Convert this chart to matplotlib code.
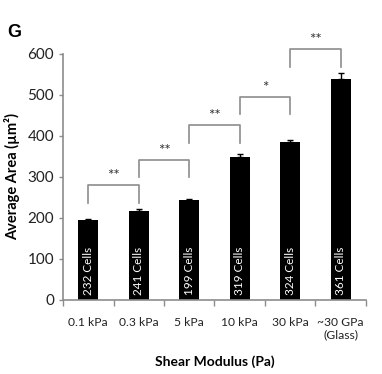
import matplotlib.pyplot as plt

# data
categories = ['0.1 kPa', '0.3 kPa', '5 kPa', '10 kPa', '30 kPa', '~30 GPa\n(Glass)']
areas = [195, 218, 243, 349, 384, 538]
errors = [3, 4, 4, 8, 7, 15]
cell_counts = ['232 Cells', '241 Cells', '199 Cells', '319 Cells', '324 Cells', '361 Cells']

# significance brackets: (left bar, right bar, top, leg bottom, label)
pairs = [(0, 1), (1, 2), (2, 3), (3, 4), (4, 5)]
bracket_tops = [280, 341, 427, 495, 612]
bracket_legs = [237, 300, 383, 454, 568]
bracket_marks = ['**', '**', '**', '*', '**']

plt.rcParams['font.family'] = ['Lato', 'DejaVu Sans']

fig = plt.figure(figsize=(3.82, 3.74), dpi=100)
ax = fig.add_axes([0.165, 0.198, 0.793, 0.658])

x = list(range(len(categories)))
ax.bar(x, areas, width=0.4, color='black', zorder=2)
ax.errorbar(x, areas, yerr=[[0] * len(errors), errors], fmt='none',
            ecolor='black', elinewidth=1, capsize=2.5, capthick=1, zorder=3)

for i, label in enumerate(cell_counts):
    ax.text(i, 12, label, rotation=90, ha='center', va='bottom',
            color='white', fontsize=8.5)

gray = '#8c8c8c'
for (a, b), top, leg, mark in zip(pairs, bracket_tops, bracket_legs, bracket_marks):
    ax.plot([a, a, b, b], [leg, top, top, leg], color=gray, lw=1.2,
            clip_on=False, zorder=1)
    ax.text((a + b) / 2, top + 5, mark, ha='center', va='bottom',
            fontsize=11, color='#333333', clip_on=False)

ax.set_xlim(-0.5, len(categories) - 0.5)
ax.set_ylim(0, 600)
ax.set_yticks(range(0, 601, 100))
ax.tick_params(axis='y', labelsize=11, colors=gray, labelcolor='#222222',
               length=3, width=1)

ax.set_xticks(x)
ax.set_xticklabels(categories, fontsize=8.7, color='#222222')
ax.tick_params(axis='x', length=0, pad=12)
ax.set_xticks([i + 0.5 for i in range(-1, len(categories))], minor=True)
ax.tick_params(axis='x', which='minor', length=4, colors=gray, width=1)

for side in ['top', 'right']:
    ax.spines[side].set_visible(False)
for side in ['left', 'bottom']:
    ax.spines[side].set_color(gray)
    ax.spines[side].set_linewidth(1.2)

ax.set_ylabel('Average Area (\u00b5m\u00b2)', fontsize=10.5, fontweight='bold', labelpad=5)
ax.set_xlabel('Shear Modulus (Pa)', fontsize=10, fontweight='bold', labelpad=11)

fig.text(0.02, 0.9, 'G', fontsize=13, fontweight='bold',
         family=['Liberation Sans', 'DejaVu Sans'])

fig.savefig('out.png', dpi=100)
